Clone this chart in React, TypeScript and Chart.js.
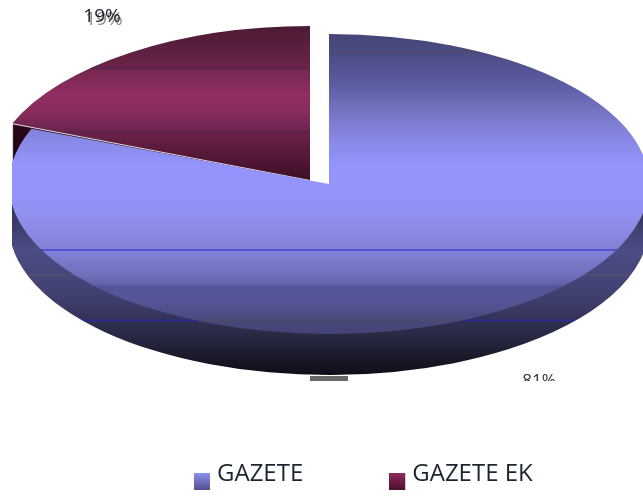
import React, { useEffect, useRef } from "react";
import { Chart, registerables } from "chart.js";

Chart.register(...registerables);

const categories = ["GAZETE", "GAZETE EK"];
const values = [81, 19];

const FONT = '"Open Sans", "Liberation Sans", sans-serif';
const RADIUS = 320;
const DEPTH = 41;

type Stop = [number, string];

const blueTop: Stop[] = [
  [34, "#45457a"], [51, "#4b4b80"], [52, "#4c4a5a"], [53, "#4c4c84"], [85, "#5c5ca2"], [110, "#7474c2"],
  [140, "#8888e6"], [165, "#9494fc"], [195, "#9494fc"], [220, "#8e8eea"], [249, "#8282d8"],
  [249.5, "#5054d2"], [250.5, "#5054d2"], [251, "#8080d8"], [275, "#7070bc"], [285, "#6060a8"],
  [286, "#55559c"], [300, "#555598"], [319, "#4a4a80"], [320, "#50505c"], [321, "#474778"], [334, "#44447a"],
];
const blueSide: Stop[] = [
  [195, "#2a2a48"], [220, "#3a3a66"], [250, "#4c4c84"], [274, "#46467a"], [275, "#555560"], [276, "#46467a"],
  [300, "#3e3e6c"], [319, "#333358"], [320, "#2a2a90"], [321, "#2a2a90"], [322, "#303050"], [340, "#26263f"],
  [360, "#171726"], [376, "#0e0e18"],
];
const maroonTop: Stop[] = [
  [26, "#4c1a35"], [50, "#5d2040"], [67, "#6a2448"], [68, "#4e2450"], [70, "#752850"], [95, "#922e62"],
  [115, "#852a5a"], [131, "#6a2450"], [132, "#5a204c"], [134, "#6a2248"], [150, "#5a1a3c"], [181, "#3e0e28"],
];
const maroonSide: Stop[] = [[120, "#2a0818"], [170, "#1a0410"]];
const sliverWhite: Stop[] = [[0, "#e6dedf"], [499, "#e6dedf"]];

const drawSlice = (ctx: any, arc: any, cx: number, cy: number, ry: number, dy: number, stops: Stop[]) => {
  const sy = ry / RADIUS;
  const toLocal = (dev: number) => arc.y + (dev - cy - dy) / sy;
  const y0 = stops[0][0];
  const y1 = stops[stops.length - 1][0];
  const g = ctx.createLinearGradient(0, toLocal(y0), 0, toLocal(y1));
  stops.forEach(([y, c]) => g.addColorStop((y - y0) / (y1 - y0), c));
  const proxy = Object.create(arc);
  proxy.options = { ...arc.options, backgroundColor: g, borderWidth: 0 };
  ctx.save();
  ctx.translate(cx, cy + dy);
  ctx.scale(1, sy);
  ctx.translate(-arc.x, -arc.y);
  proxy.draw(ctx);
  ctx.restore();
};

const pie3d = {
  id: "pie3d",
  afterLayout(chart: any) {
    chart.legend.left = 108;
    chart.legend.top = 369;
  },
  beforeDatasetsDraw(chart: any) {
    const ctx = chart.ctx;
    const [blue, maroon] = chart.getDatasetMeta(0).data;
    ctx.save();
    ctx.beginPath();
    ctx.rect(12, 0, 631, 499);
    ctx.clip();
    const mx = 310, my = 180, mry = 154;
    for (let d = DEPTH; d >= 1; d--) {
      drawSlice(ctx, maroon, mx, my, mry, d, d === 1 ? sliverWhite : maroonSide);
    }
    drawSlice(ctx, maroon, mx, my, mry, 0, maroonTop);
    const bx = 329, by = 184, bry = 150;
    for (let d = DEPTH; d >= 1; d--) {
      drawSlice(ctx, blue, bx, by, bry, d, blueSide);
    }
    drawSlice(ctx, blue, bx, by, bry, 0, blueTop);
    ctx.restore();

    ctx.fillStyle = "#66666a";
    ctx.fillRect(310, 376, 38, 5);

    const total = values.reduce((a, b) => a + b, 0);
    const pct = values.map((v) => Math.round((v / total) * 100) + "%");
    ctx.save();
    ctx.textAlign = "center";
    ctx.textBaseline = "alphabetic";
    ctx.font = `19px ${FONT}`;
    ctx.fillStyle = "#8a8a8a";
    ctx.fillText(pct[1], 104, 25);
    ctx.fillStyle = "#1c1c28";
    ctx.fillText(pct[1], 102, 22);
    ctx.beginPath();
    ctx.rect(500, 372, 80, 9);
    ctx.clip();
    ctx.fillStyle = "#333";
    ctx.font = `17px ${FONT}`;
    ctx.fillText(pct[0], 539, 386);
    ctx.restore();
    return false;
  },
};

const swatch = (from: string, to: string) => {
  const c = document.createElement("canvas");
  c.width = 18;
  c.height = 32;
  const x = c.getContext("2d")!;
  const g = x.createLinearGradient(0, 15, 0, 32);
  g.addColorStop(0, from);
  g.addColorStop(1, to);
  x.fillStyle = g;
  x.fillRect(0, 15, 16, 17);
  return c;
};

export default function App() {
  const ref = useRef<HTMLCanvasElement>(null);
  useEffect(() => {
    const swatches = [swatch("#8f8ff5", "#50508c"), swatch("#8f2b5f", "#4a1030")];
    const chart = new Chart(ref.current!, {
      type: "pie",
      data: {
        labels: categories,
        datasets: [{ data: values, backgroundColor: ["#9494fc", "#922e62"], borderWidth: 0 }],
      },
      options: {
        responsive: false,
        animation: false,
        radius: RADIUS,
        plugins: {
          tooltip: { enabled: false },
          legend: {
            position: "bottom",
            align: "start",
            labels: {
              padding: 93,
              usePointStyle: true,
              pointStyleWidth: 4,
              color: "#1c2430",
              font: { family: FONT, size: 24 },
              generateLabels: () =>
                categories.map((text, i) => ({
                  text,
                  index: i,
                  hidden: false,
                  lineWidth: 0,
                  fontColor: "#1c2430",
                  pointStyle: swatches[i],
                })),
            },
          },
        },
      } as any,
      plugins: [pie3d as any],
    });
    return () => chart.destroy();
  }, []);
  return (
    <canvas
      ref={ref}
      width={643}
      height={499}
      style={{ position: "absolute", left: 0, top: 0, display: "block", filter: "blur(0.6px)" }}
    />
  );
}
